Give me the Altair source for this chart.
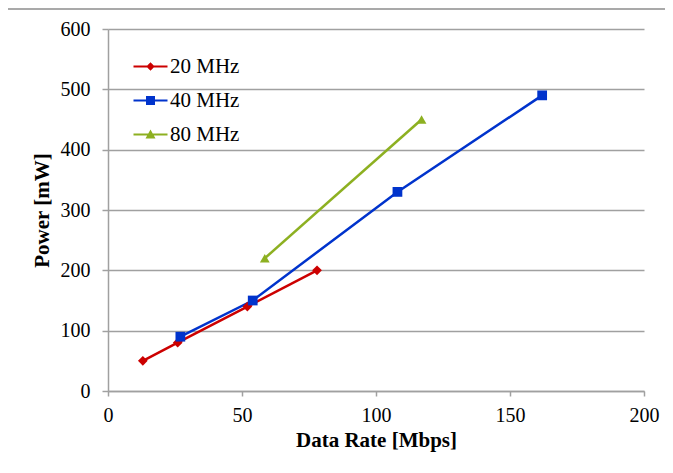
import altair as alt
import pandas as pd

series_names = ["20 MHz", "40 MHz", "80 MHz"]
rate_20 = [13, 26, 52, 78]
power_20 = [50, 80, 140, 200]
rate_40 = [27, 54, 108, 162]
power_40 = [90, 150, 330, 490]
rate_80 = [58.5, 117]
power_80 = [220, 450]
x_ticks = [0, 50, 100, 150, 200]
y_ticks = [0, 100, 200, 300, 400, 500, 600]
colors = ["#cc0000", "#0033cc", "#8db021"]

rows = []
for name, xs, ys in zip(series_names, [rate_20, rate_40, rate_80], [power_20, power_40, power_80]):
    for xv, yv in zip(xs, ys):
        rows.append({"series": name, "rate": xv, "power": yv})
df = pd.DataFrame(rows)

FONT = "Liberation Serif"
GRID = "#a0a0a0"

x_enc = alt.X(
    "rate:Q",
    scale=alt.Scale(domain=[0, 200], nice=False),
    axis=alt.Axis(
        values=x_ticks, title="Data Rate [Mbps]", grid=False, labelFlush=False,
        domainColor=GRID, domainWidth=1.5, tickColor=GRID, tickWidth=1.5, tickSize=5,
        labelFont=FONT, labelFontSize=20, labelColor="black", labelPadding=9,
        titleFont=FONT, titleFontSize=21, titleFontWeight="bold", titleColor="black",
        titleY=49, titleBaseline="middle",
    ),
)
y_enc = alt.Y(
    "power:Q",
    scale=alt.Scale(domain=[0, 600], nice=False),
    axis=alt.Axis(
        values=y_ticks, title="Power [mW]", grid=True, gridColor=GRID, gridWidth=1.5,
        labelFlush=False,
        domainColor=GRID, domainWidth=1.5, tickColor=GRID, tickWidth=1.5, tickSize=6,
        labelFont=FONT, labelFontSize=20, labelColor="black", labelPadding=12,
        titleFont=FONT, titleFontSize=21, titleFontWeight="bold", titleColor="black",
        titleX=-66, titleY=181, titleAngle=-90, titleAlign="center", titleBaseline="middle",
    ),
)

color_scale = alt.Scale(domain=series_names, range=colors)

legend_paths = [
    "M-1.7,-0.1H1.7V0.1H-1.7Z M0,-0.42L0.42,0L0,0.42L-0.42,0Z",
    "M-1.7,-0.1H1.7V0.1H-1.7Z M-0.45,-0.45H0.45V0.45H-0.45Z",
    "M-1.7,-0.1H1.7V0.1H-1.7Z M0,-0.5L0.5,0.4L-0.5,0.4Z",
]

def make_legend():
    return alt.Legend(
        title=None, orient="none", legendX=32, legendY=27, padding=0,
        labelFont=FONT, labelFontSize=21, labelColor="black", labelOffset=9,
        symbolSize=400, symbolStrokeWidth=0, symbolOpacity=1, rowPadding=12,
    )

lines = alt.Chart(df).mark_line(strokeWidth=2.5).encode(
    x=x_enc,
    y=y_enc,
    color=alt.Color("series:N", scale=color_scale, legend=None),
)

points = alt.Chart(df).mark_point(filled=True, size=95, opacity=1).encode(
    x="rate:Q",
    y="power:Q",
    color=alt.Color("series:N", scale=color_scale, legend=None),
    shape=alt.Shape("series:N", scale=alt.Scale(domain=series_names, range=["diamond", "square", "triangle-up"]), legend=None),
)

legend_layer = alt.Chart(df).transform_filter("false").mark_point(filled=True, opacity=1).encode(
    x="rate:Q",
    y="power:Q",
    color=alt.Color("series:N", scale=color_scale, legend=make_legend()),
    shape=alt.Shape("series:N", scale=alt.Scale(domain=series_names, range=legend_paths), legend=make_legend()),
)

frame_data = alt.Data(values=[{"k": 1}])
frame_top = alt.Chart(frame_data).mark_rule(color="#8c8c8c", strokeWidth=1.5).encode(
    x=alt.value(-101), x2=alt.value(700), y=alt.value(-20)
)
frame_left = alt.Chart(frame_data).mark_rule(color="#8c8c8c", strokeWidth=1.5).encode(
    x=alt.value(-101), y=alt.value(-20), y2=alt.value(480)
)

chart = alt.layer(frame_top, frame_left, lines, points, legend_layer).resolve_scale(
    shape="independent", color="independent"
).properties(
    width=536, height=362,
    autosize=alt.AutoSizeParams(type="none"),
    padding={"left": 100, "top": 21, "right": 21, "bottom": 74},
    background="white",
).configure_view(stroke=None).configure_axis(
    labelFont=FONT, titleFont=FONT
).configure_legend(labelFont=FONT)

chart.save("out.html", embed_options={"renderer": "svg", "actions": False})
